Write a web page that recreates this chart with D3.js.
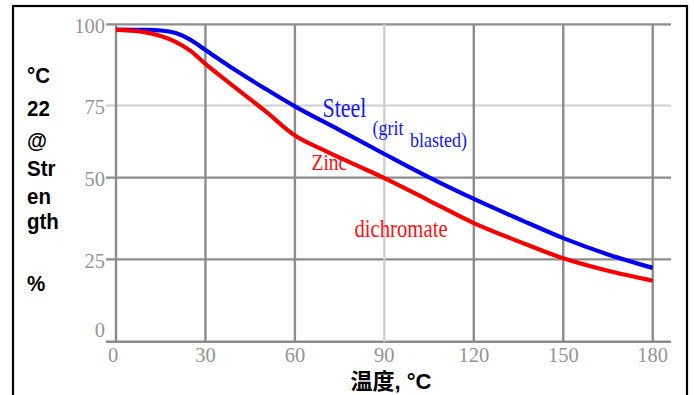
<!DOCTYPE html>
<html>
<head>
<meta charset="utf-8">
<script src="https://cdn.jsdelivr.net/npm/d3@7"></script>
<style>
  html, body { margin: 0; padding: 0; background: #fff; }
  svg { display: block; }
</style>
</head>
<body>
<svg id="chart" width="694" height="395"></svg>
<script>
// Temperature (°C) ticks and strength (%) ticks
const xTicks = [0, 30, 60, 90, 120, 150, 180];
const yTicks = [0, 25, 50, 75, 100];
const xTickLabels = ["0", "30", "60", "90", "120", "150", "180"];
const yTickLabels = ["0", "25", "50", "75", "100"];

// Steel (grit blasted): temperature and strength retained
const steelTemp = [0, 10, 15, 20, 25, 30, 40, 50, 60, 75, 90, 105, 120, 135, 150, 165, 180];
const steelStrength = [98.4, 98.3, 98.1, 97.3, 95.2, 92.1, 85.9, 80.2, 74.7, 66.5, 58.2, 50.1, 43.5, 37.4, 31.5, 26.5, 22.4];

// Zinc dichromate: temperature and strength retained
const zincTemp = [0, 8, 15, 20, 25, 30, 40, 50, 60, 70, 80, 90, 105, 120, 135, 150, 165, 180];
const zincStrength = [98.3, 97.8, 96.4, 94.6, 91.8, 87.8, 80.5, 73.1, 64.6, 59.4, 54.6, 49.9, 43.0, 36.1, 30.5, 25.3, 21.5, 18.5];

// Y-axis title, one short chunk per line
const yTitleLines = ["°C", "22", "@", "Str", "en", "gth", "", "%"];
const yTitleBaselines = [83, 116, 148, 176, 204, 229, 260, 291];

const svg = d3.select("#chart");

// Outer frame
svg.append("rect")
  .attr("x", 13).attr("y", 6)
  .attr("width", 674).attr("height", 410)
  .attr("fill", "none").attr("stroke", "#000").attr("stroke-width", 2.2);

const x = d3.scaleLinear().domain([0, 180]).range([116, 652.7]);
const y = d3.scaleLinear().domain([0, 25, 50, 75, 100]).range([341.7, 259.3, 177.7, 105.5, 24.3]);

const gridLeft = 106, gridRight = 671;
const lightX = 90, lightY = 75;

// Horizontal grid lines (with short tick stubs left of the axis)
svg.append("g").selectAll("line").data(yTicks).join("line")
  .attr("x1", gridLeft).attr("x2", gridRight)
  .attr("y1", d => y(d)).attr("y2", d => y(d))
  .attr("stroke", d => d === lightY ? "#cfcfcf" : "#8c8c8c")
  .attr("stroke-width", d => d === 0 ? 2.6 : 2.2);

// Vertical grid lines
svg.append("g").selectAll("line").data(xTicks).join("line")
  .attr("x1", d => x(d)).attr("x2", d => x(d))
  .attr("y1", y(100)).attr("y2", y(0))
  .attr("stroke", d => d === lightX ? "#cfcfcf" : "#8c8c8c")
  .attr("stroke-width", 2.4);

// Tick labels
const tickFont = "'Liberation Serif', 'Times New Roman', serif";
svg.append("g").selectAll("text").data(yTicks).join("text")
  .attr("x", 105)
  .attr("y", d => y(d) + (d === 0 ? -5 : 8.5))
  .attr("text-anchor", "end")
  .attr("font-family", tickFont).attr("font-size", 20.5)
  .attr("fill", "#949494")
  .text((d, i) => yTickLabels[i]);

svg.append("g").selectAll("text").data(xTicks).join("text")
  .attr("x", d => x(d) - (d === 0 ? 3 : 0))
  .attr("y", 362)
  .attr("text-anchor", "middle")
  .attr("font-family", tickFont).attr("font-size", 20.5)
  .attr("fill", "#949494")
  .text((d, i) => xTickLabels[i]);

// Curves
const line = d3.line()
  .x(d => x(d[0]))
  .y(d => y(d[1]))
  .curve(d3.curveMonotoneX);

const steel = steelTemp.map((t, i) => [t, steelStrength[i]]);
const zinc = zincTemp.map((t, i) => [t, zincStrength[i]]);

svg.append("path").datum(steel)
  .attr("d", line).attr("fill", "none")
  .attr("stroke", "#0000f0").attr("stroke-width", 4.2);

svg.append("path").datum(zinc)
  .attr("d", line).attr("fill", "none")
  .attr("stroke", "#f50000").attr("stroke-width", 4.2);

// Series annotations (tall serif lettering)
function note(txt, px, py, size, color) {
  svg.append("text")
    .attr("transform", `translate(${px},${py}) scale(1,1.22)`)
    .attr("font-family", tickFont)
    .attr("font-size", size)
    .attr("fill", color)
    .text(txt);
}
note("Steel", 322.5, 117, 22, "#1414ff");
note("(grit", 372.5, 135, 18, "#1414ff");
note("blasted)", 410, 147, 18, "#1414ff");
note("Zinc", 311.5, 170, 19.5, "#ff1010");
note("dichromate", 354.5, 237, 20.7, "#ff1010");

// Axis titles
const sansBold = "'Liberation Sans', Arial, 'Noto Sans CJK SC', sans-serif";
svg.append("text")
  .attr("x", 391).attr("y", 388.5)
  .attr("text-anchor", "middle")
  .attr("font-family", sansBold).attr("font-weight", "bold")
  .attr("font-size", 22).attr("fill", "#000")
  .text("温度, °C");

svg.append("g").selectAll("text").data(yTitleLines).join("text")
  .attr("transform", (d, i) => `translate(27,${yTitleBaselines[i]}) scale(1,1.08)`)
  .attr("font-family", sansBold).attr("font-weight", "bold")
  .attr("font-size", 20.5).attr("fill", "#000")
  .text(d => d);
</script>
</body>
</html>
